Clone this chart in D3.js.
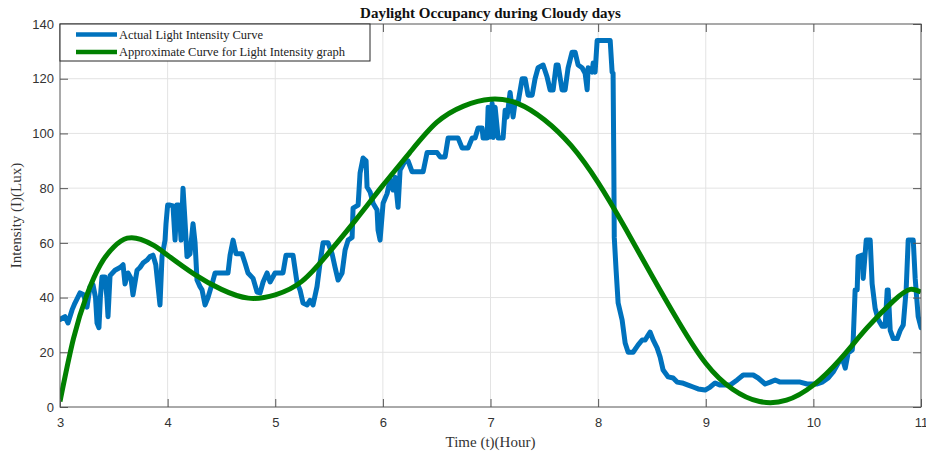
<!DOCTYPE html>
<html>
<head>
<meta charset="utf-8">
<script src="https://cdn.jsdelivr.net/npm/d3@7"></script>
<style>
  html, body { margin: 0; padding: 0; background: #fff; }
  svg { display: block; }
</style>
</head>
<body>
<svg id="chart" width="926" height="455"></svg>
<script>
// ---- Data ----
const title = "Daylight Occupancy during Cloudy days";
const xLabel = "Time (t)(Hour)";
const yLabel = "Intensity (I)(Lux)";
const seriesNames = ["Actual Light Intensity Curve", "Approximate Curve for Light Intensity graph"];
const xTicks = [3, 4, 5, 6, 7, 8, 9, 10, 11];
const yTicks = [0, 20, 40, 60, 80, 100, 120, 140];

// Actual light intensity (hour, lux)
const actualTime = [
  3.00, 3.046, 3.074, 3.112, 3.139, 3.186, 3.22, 3.251, 3.279, 3.307, 3.330, 3.344, 3.362, 3.375, 3.390, 3.418,
  3.436, 3.446, 3.465, 3.511, 3.558, 3.586, 3.604, 3.632, 3.66, 3.678, 3.716, 3.743, 3.771, 3.809, 3.836, 3.864,
  3.89, 3.929, 3.948, 3.976, 3.985, 4.00, 4.022, 4.05, 4.069, 4.085, 4.105, 4.125, 4.143, 4.162, 4.180, 4.208,
  4.236, 4.255, 4.273, 4.301, 4.320, 4.348, 4.375, 4.413, 4.441, 4.487, 4.561, 4.580, 4.608, 4.636, 4.691, 4.719,
  4.747, 4.794, 4.831, 4.859, 4.887, 4.924, 4.952, 4.998, 5.072, 5.10, 5.165, 5.203, 5.230, 5.258, 5.296, 5.323,
  5.351, 5.388, 5.416, 5.444, 5.491, 5.528, 5.556, 5.584, 5.621, 5.649, 5.677, 5.714, 5.723, 5.770, 5.788, 5.816,
  5.844, 5.853, 5.881, 5.909, 5.946, 5.955, 5.974, 6.002, 6.039, 6.067, 6.095, 6.113, 6.141, 6.160, 6.206, 6.234,
  6.271, 6.374, 6.411, 6.504, 6.532, 6.578, 6.606, 6.699, 6.736, 6.792, 6.829, 6.857, 6.885, 6.922, 6.931, 6.968,
  6.978, 6.996, 7.015, 7.024, 7.043, 7.071, 7.117, 7.136, 7.154, 7.182, 7.210, 7.229, 7.257, 7.294, 7.322, 7.349,
  7.387, 7.414, 7.442, 7.489, 7.526, 7.554, 7.582, 7.610, 7.628, 7.665, 7.693, 7.721, 7.758, 7.786, 7.814, 7.851,
  7.879, 7.898, 7.907, 7.944, 7.954, 7.972, 7.991, 8.112, 8.130, 8.139, 8.145, 8.150, 8.167, 8.186, 8.223, 8.251,
  8.279, 8.325, 8.372, 8.409, 8.437, 8.465, 8.483, 8.511, 8.548, 8.576, 8.604, 8.651, 8.697, 8.734, 8.781, 8.836,
  8.883, 8.929, 8.994, 9.041, 9.087, 9.134, 9.227, 9.292, 9.348, 9.441, 9.487, 9.552, 9.599, 9.645, 9.691, 9.757,
  9.877, 9.942, 10.035, 10.082, 10.138, 10.184, 10.230, 10.268, 10.296, 10.323, 10.361, 10.370, 10.388, 10.407, 10.416, 10.454,
  10.463, 10.491, 10.528, 10.546, 10.574, 10.602, 10.639, 10.667, 10.686, 10.695, 10.714, 10.742, 10.779, 10.807, 10.835, 10.862,
  10.881, 10.928, 10.946, 10.974, 11.00
];
const actualLux = [
  32, 33, 30.7, 35.5, 38, 41.7, 41, 36.5, 44, 44.6, 40, 30.7, 29, 40, 47.5, 47.5,
  40, 33, 48, 50, 51, 52, 45, 49, 47, 41, 50, 51, 52.6, 53.7, 55, 55.5,
  52, 37.3, 55, 61, 67, 73.8, 73.8, 73.5, 61, 73.8, 73.8, 61, 80, 67.6, 55, 56,
  67, 60, 46.4, 44, 42.8, 37.3, 40, 45, 49, 49, 49, 55.5, 61, 56, 56, 52.6,
  49, 47, 42, 41.7, 45.7, 49, 45.7, 49, 49, 55.5, 55.5, 45.3, 42.8, 38, 37.3, 39,
  37.3, 44, 52.6, 60, 60, 56, 51, 46.4, 49, 57.4, 61, 62, 72.7, 73.8, 85.5, 91,
  90, 80.4, 78.6, 74.5, 72, 64.7, 61, 74.5, 78, 83, 79.3, 84, 73, 86.6, 90, 90,
  86, 86, 93, 93, 91.4, 91.4, 98.3, 98.3, 94.7, 94.7, 98.3, 98.3, 102, 102, 98.3, 98.3,
  109.6, 98.7, 111, 98.5, 109.6, 98.3, 98.3, 108.5, 106, 115, 106, 111.5, 111.5, 120, 120, 114,
  114, 120, 124, 125, 120.6, 115.9, 115.9, 125, 125, 115.9, 115.9, 124, 129.7, 129.7, 125, 124,
  122, 116, 124, 122.4, 125.7, 122.4, 134, 134, 122.4, 122, 92.8, 62, 50, 38, 31.8, 23.4,
  20, 20, 22.7, 24.5, 24.5, 26.3, 27.4, 24.5, 21.6, 18.3, 13.5, 11, 10.6, 9.1, 8.8, 8,
  7.3, 6.6, 6.2, 7.3, 8.8, 8, 8, 9.9, 11.7, 11.7, 10.6, 8.4, 9.1, 9.9, 9.1, 9.1,
  9.1, 8.4, 8.4, 9.1, 10.6, 12.8, 16, 18, 14.2, 19.7, 20.8, 24.5, 42.8, 42.8, 55, 55.5,
  47, 61, 61, 45, 36, 32, 29.5, 29.5, 42.8, 42.8, 28, 25, 25, 28, 30, 42.8,
  61, 61, 47, 33, 29
];

// Approximate (fitted) curve (hour, lux)
const approxTime = [
  3.00, 3.125, 3.25, 3.375, 3.50, 3.625, 3.75, 3.875, 4.00, 4.25, 4.50, 4.75, 5.00, 5.25, 5.50, 5.75,
  6.00, 6.25, 6.50, 6.75, 7.00, 7.25, 7.50, 7.75, 8.00, 8.25, 8.50, 8.75, 9.00, 9.25, 9.50, 9.75,
  10.00, 10.25, 10.50, 10.75, 10.90, 11.00
];
const approxLux = [
  2, 25, 41, 52, 58.5, 61.7, 61.3, 59, 55.5, 48.5, 43, 39.8, 41, 46, 56.5, 68.5,
  81, 93, 104, 110, 112.5, 111, 105, 95.5, 82, 65.5, 48, 31, 16, 6.5, 2, 2.5,
  8, 17.5, 29, 39, 43, 42
];

const colors = ["#0072BD", "#008000"];

// ---- Layout ----
const svg = d3.select("#chart");
const L = 60, R = 921, T = 24, B = 407;
const x = d3.scaleLinear().domain([3, 11]).range([L, R]);
const y = d3.scaleLinear().domain([0, 140]).range([B, T]);

const serif = "'Liberation Serif', 'DejaVu Serif', serif";
const sans = "'Liberation Sans', Arial, sans-serif";
const axisColor = "#555";

// Grid
const grid = svg.append("g");
grid.selectAll(".gx").data(xTicks.slice(1, -1)).join("line")
  .attr("x1", d => x(d)).attr("x2", d => x(d)).attr("y1", T).attr("y2", B)
  .attr("stroke", "#e3e3e3").attr("stroke-width", 1);
grid.selectAll(".gy").data(yTicks.slice(1, -1)).join("line")
  .attr("x1", L).attr("x2", R).attr("y1", d => y(d)).attr("y2", d => y(d))
  .attr("stroke", "#e3e3e3").attr("stroke-width", 1);

// Clip for lines
svg.append("clipPath").attr("id", "plotclip").append("rect")
  .attr("x", L).attr("y", T - 3).attr("width", R - L).attr("height", B - T + 6);

const actual = actualTime.map((t, i) => [t, actualLux[i]]);
const approx = approxTime.map((t, i) => [t, approxLux[i]]);

const lineLin = d3.line().x(d => x(d[0])).y(d => y(d[1])).curve(d3.curveLinear);
const lineSmooth = d3.line().x(d => x(d[0])).y(d => y(d[1])).curve(d3.curveNatural);

const plot = svg.append("g").attr("clip-path", "url(#plotclip)");
plot.append("path").datum(actual).attr("d", lineLin)
  .attr("fill", "none").attr("stroke", colors[0]).attr("stroke-width", 5)
  .attr("stroke-linejoin", "round").attr("stroke-linecap", "round");
plot.append("path").datum(approx).attr("d", lineSmooth)
  .attr("fill", "none").attr("stroke", colors[1]).attr("stroke-width", 5)
  .attr("stroke-linejoin", "round");

// Axes (ticks inward)
const xAxis = d3.axisBottom(x).tickValues(xTicks).tickFormat(d3.format("d"))
  .tickSizeInner(-8).tickSizeOuter(0).tickPadding(11);
const yAxis = d3.axisLeft(y).tickValues(yTicks).tickFormat(d3.format("d"))
  .tickSizeInner(-8).tickSizeOuter(0).tickPadding(6);
const xTop = d3.axisTop(x).tickValues(xTicks).tickFormat("").tickSizeInner(-8).tickSizeOuter(0);
const yRight = d3.axisRight(y).tickValues(yTicks).tickFormat("").tickSizeInner(-8).tickSizeOuter(0);

function styleAxis(g) {
  g.select(".domain").remove();
  g.selectAll(".tick line").attr("stroke", axisColor);
  g.selectAll(".tick text").attr("fill", "#333").style("font-family", sans).style("font-size", "13px");
}
svg.append("g").attr("transform", `translate(0,${B})`).call(xAxis).call(styleAxis);
svg.append("g").attr("transform", `translate(${L},0)`).call(yAxis).call(styleAxis);
svg.append("g").attr("transform", `translate(0,${T})`).call(xTop).call(styleAxis);
svg.append("g").attr("transform", `translate(${R},0)`).call(yRight).call(styleAxis);

// Box
svg.append("rect").attr("x", L).attr("y", T).attr("width", R - L).attr("height", B - T)
  .attr("fill", "none").attr("stroke", axisColor).attr("stroke-width", 1);

// Title & labels
svg.append("text").attr("x", (L + R) / 2).attr("y", 18).attr("text-anchor", "middle")
  .style("font-family", serif).style("font-size", "15px").style("font-weight", "bold")
  .attr("fill", "#111").text(title);
svg.append("text").attr("x", (L + R) / 2).attr("y", 447).attr("text-anchor", "middle")
  .style("font-family", serif).style("font-size", "15px").attr("fill", "#333").text(xLabel);
svg.append("text").attr("transform", `translate(21,${(T + B) / 2}) rotate(-90)`).attr("text-anchor", "middle")
  .style("font-family", serif).style("font-size", "15px").attr("fill", "#333").text(yLabel);

// Legend
const leg = svg.append("g");
leg.append("rect").attr("x", L).attr("y", T).attr("width", 310).attr("height", 37)
  .attr("fill", "#fff").attr("stroke", "#262626").attr("stroke-width", 1);
const legY = [34.5, 52];
seriesNames.forEach((name, i) => {
  leg.append("line").attr("x1", 76).attr("x2", 117).attr("y1", legY[i]).attr("y2", legY[i])
    .attr("stroke", colors[i]).attr("stroke-width", 4.5);
  leg.append("text").attr("x", 119).attr("y", legY[i] + 4).style("font-family", serif)
    .style("font-size", "12.5px").attr("fill", "#222").text(name);
});
</script>
</body>
</html>
